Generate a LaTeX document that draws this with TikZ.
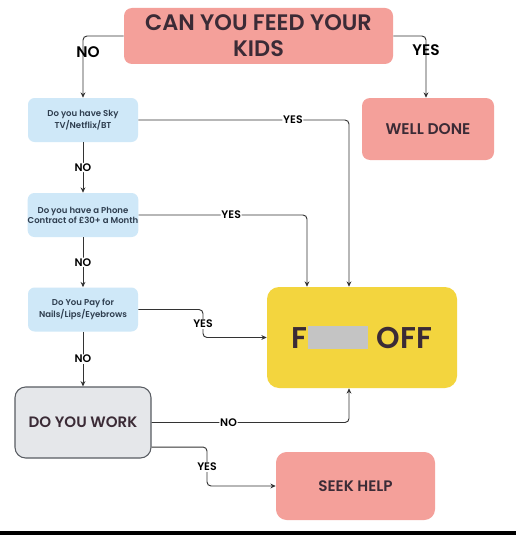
\documentclass[tikz,border=0pt]{standalone}
\usepackage{fontspec}
\setmainfont{Poppins}[BoldFont={Poppins SemiBold}]
\usetikzlibrary{arrows.meta,positioning,calc}
\definecolor{salmon}{HTML}{F4A09A}
\definecolor{skyblue}{HTML}{CFE8F8}
\definecolor{mustard}{HTML}{F3D53E}
\definecolor{paleGray}{HTML}{E5E7EA}
\definecolor{edgeGray}{HTML}{585C62}
\definecolor{inkDark}{HTML}{3B2B36}
\definecolor{inkBlue}{HTML}{2E3D4E}
\definecolor{censor}{HTML}{C4C4C4}
\definecolor{lineGray}{HTML}{333333}

\begin{document}
\begin{tikzpicture}[x=0.75pt, y=-0.75pt, >={Stealth[length=4pt,width=3.6pt]}, font=\bfseries,
    bigbox/.style={rounded corners=6pt, inner sep=0pt, align=center, text=inkDark},
    qbox/.style={rounded corners=5pt, inner sep=0pt, align=center, fill=skyblue,
      text=inkBlue, minimum width=82.5pt, minimum height=33pt,
      font=\bfseries\fontsize{6.4}{7.6}\selectfont},
    link/.style={->, lineGray, line width=0.7pt, rounded corners=3pt},
    tag/.style={fill=white, inner sep=0.6pt, text=black, font=\bfseries\fontsize{8.2}{9}\selectfont},
    bigtag/.style={inner sep=0pt, text=black, font=\bfseries\fontsize{11.5}{12}\selectfont}]
  \useasboundingbox (0,0) rectangle (516,535);
  \fill[white] (0,0) rectangle (516,535);
  \fill[black] (0,531) rectangle (516,535);
  %% Boxes
  \node[bigbox, fill=salmon, minimum width=201.75pt, minimum height=42pt,
    font=\bfseries\fontsize{16.8}{19.5}\selectfont] (feed) at (258.5,36) {CAN YOU FEED YOUR\\KIDS};
  \node[bigbox, fill=salmon, minimum width=99pt, minimum height=46.5pt,
    font=\bfseries\fontsize{11.6}{13}\selectfont] (done) at (428,129) {WELL DONE};
  \node[qbox] (sky) at (83,120) {Do you have Sky\\TV/Netflix/BT};
  \node[qbox] (phone) at (83,215) {Do you have a Phone\\Contract of £30+ a Month};
  \node[qbox] (pay) at (83,309.5) {Do You Pay for\\Nails/Lips/Eyebrows};
  \node[bigbox, fill=mustard, rounded corners=9pt, minimum width=142.5pt, minimum height=75.75pt,
    font=\bfseries\fontsize{22.5}{24}\selectfont] (off) at (362,337.5)
    {F{\color{censor}\rule[-0.5pt]{45pt}{17pt}}\hspace{7pt}OFF};
  \node[bigbox, fill=paleGray, draw=edgeGray, line width=0.8pt, rounded corners=8pt,
    minimum width=102pt, minimum height=53.25pt,
    font=\bfseries\fontsize{11.3}{13}\selectfont] (work) at (83,422.5) {DO YOU WORK};
  \node[bigbox, fill=salmon, rounded corners=8pt, minimum width=119.25pt, minimum height=51pt,
    font=\bfseries\fontsize{11.4}{13}\selectfont] (help) at (355.5,486) {SEEK HELP};
  %% Turning points
  \coordinate (payturn) at (203,324);
  \coordinate (workturn) at (207,467);
  %% Connectors
  \draw[link] (feed.west) -| (sky.north);
  \node[bigtag] at (88,52) {NO};
  \draw[link] (feed.east) -| ([xshift=-1.5pt]done.north);
  \node[bigtag] at (426,50) {YES};
  \draw[link] (sky) -- node[tag] {NO} (phone);
  \draw[link] (phone) -- node[tag] {NO} (pay);
  \draw[link] (pay) -- node[tag] {NO} (work);
  \draw[link] (sky.east) -| ([xshift=-9.75pt]off.north) node[tag, pos=0.367] {YES};
  \draw[link] (phone.east) -| ([xshift=-41.25pt]off.north) node[tag, pos=0.275] {YES};
  \draw[link] (pay.east) -| (payturn) |- (off.west);
  \node[tag] at (payturn) {YES};
  \draw[link] (work.east) -| ([xshift=-9.75pt]off.south) node[tag, pos=0.195] {NO};
  \draw[link] ([yshift=-18.4pt]work.east) -| (workturn) |- (help.west);
  \node[tag] at (workturn) {YES};
\end{tikzpicture}
\end{document}
